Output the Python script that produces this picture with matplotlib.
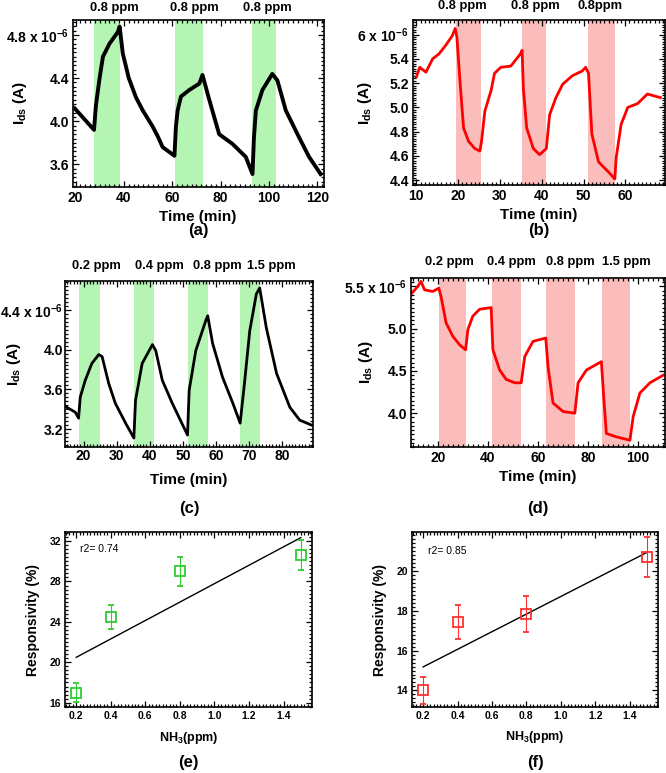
import numpy as np
import matplotlib
matplotlib.use('Agg')
import matplotlib.pyplot as plt
from matplotlib.ticker import AutoMinorLocator
from matplotlib.transforms import blended_transform_factory

plt.rcParams['font.family'] = ['Liberation Sans', 'DejaVu Sans']
plt.rcParams['font.weight'] = 'bold'
plt.rcParams['mathtext.fontset'] = 'custom'
plt.rcParams['mathtext.rm'] = 'Liberation Sans:bold'
plt.rcParams['mathtext.default'] = 'rm'

# (a) 0.8 ppm cycles, black trace (x1e-6 A)
a_time = [19.6, 24.4, 27.6, 28.4, 29.9, 31.3, 34.0, 37.5, 38.2, 39.5, 42.0, 45.0, 47.8, 51.9, 54.0,
          56.0, 60.9, 61.5, 62.2, 63.6, 67.0, 71.2, 72.5, 75.3, 79.4, 84.9, 90.4, 93.2, 93.8, 94.6,
          97.3, 101.4, 103.5, 107.0, 112.5, 116.6, 121.4]
a_ids = [4.12, 4.00, 3.92, 4.15, 4.40, 4.60, 4.72, 4.83, 4.88, 4.63, 4.40, 4.22, 4.10, 3.95, 3.86,
         3.76, 3.68, 3.95, 4.10, 4.23, 4.29, 4.35, 4.43, 4.20, 3.88, 3.79, 3.67, 3.51, 3.85, 4.10,
         4.29, 4.44, 4.38, 4.10, 3.85, 3.67, 3.51]
a_on = [27.4, 61.1, 92.9]
a_off = [38.4, 72.8, 103.1]
a_gas = ['0.8 ppm', '0.8 ppm', '0.8 ppm']

# (b) 0.8 ppm cycles, red trace
b_time = [10.0, 10.8, 12.3, 13.9, 15.4, 17.0, 18.6, 19.3, 19.7, 20.5, 21.3, 22.5, 24.0, 25.2, 25.6,
          26.4, 27.9, 28.7, 30.2, 32.6, 34.9, 35.3, 35.6, 36.4, 38.0, 39.5, 41.1, 41.9, 43.4, 45.0,
          47.3, 49.7, 50.5, 51.2, 52.0, 53.6, 55.9, 57.5, 57.8, 59.0, 60.6, 62.9, 65.3, 68.4]
b_ids = [5.25, 5.33, 5.29, 5.40, 5.44, 5.51, 5.59, 5.65, 5.58, 5.19, 4.83, 4.72, 4.66, 4.64, 4.72,
         4.97, 5.14, 5.28, 5.33, 5.34, 5.44, 5.47, 5.16, 4.83, 4.66, 4.61, 4.66, 4.94, 5.08, 5.19,
         5.26, 5.30, 5.33, 5.28, 4.78, 4.55, 4.47, 4.41, 4.58, 4.86, 5.00, 5.03, 5.11, 5.08]
b_on = [19.5, 35.3, 51.0]
b_off = [25.5, 41.1, 57.5]
b_gas = ['0.8 ppm', '0.8 ppm', '0.8ppm']

# (c) 0.2-1.5 ppm steps, black trace
c_time = [14.4, 17.5, 18.5, 19.0, 20.5, 22.5, 24.6, 25.6, 27.6, 29.6, 32.7, 35.2, 35.7, 37.7, 40.8,
          41.8, 43.8, 46.8, 51.4, 51.9, 53.9, 57.0, 57.5, 59.0, 62.0, 65.1, 67.3, 68.6, 70.2, 72.2,
          73.2, 75.2, 78.3, 82.3, 85.3, 88.9]
c_ids = [3.43, 3.37, 3.31, 3.52, 3.69, 3.86, 3.95, 3.93, 3.66, 3.46, 3.26, 3.11, 3.49, 3.86, 4.05,
         3.99, 3.69, 3.46, 3.14, 3.59, 3.99, 4.30, 4.34, 4.06, 3.72, 3.46, 3.26, 3.66, 4.19, 4.56,
         4.62, 4.22, 3.76, 3.42, 3.29, 3.24]
c_on = [18.7, 35.2, 51.6, 67.4]
c_off = [24.9, 41.3, 57.7, 73.2]
c_gas = ['0.2 ppm', '0.4 ppm', '0.8 ppm', '1.5 ppm']

# (d) 0.2-1.5 ppm steps, red trace
d_time = [9.6, 12.0, 13.3, 14.7, 18.0, 20.4, 21.3, 23.3, 26.0, 28.7, 31.1, 32.0, 34.0, 36.7, 41.3,
          42.0, 44.7, 47.3, 50.7, 53.3, 54.7, 58.0, 63.1, 64.0, 66.0, 70.0, 74.7, 76.0, 79.3, 85.3,
          86.3, 87.3, 91.3, 96.7, 98.0, 100.7, 104.7, 110.0]
d_ids = [5.42, 5.50, 5.56, 5.46, 5.44, 5.48, 5.38, 5.07, 4.91, 4.81, 4.75, 4.99, 5.15, 5.23, 5.25,
         4.75, 4.51, 4.40, 4.36, 4.36, 4.67, 4.85, 4.89, 4.55, 4.12, 4.02, 4.00, 4.36, 4.51, 4.61,
         4.16, 3.76, 3.72, 3.68, 3.96, 4.24, 4.36, 4.45]
d_on = [20.4, 41.5, 63.3, 85.7]
d_off = [31.1, 53.3, 74.9, 96.9]
d_gas = ['0.2 ppm', '0.4 ppm', '0.8 ppm', '1.5 ppm']

# (e), (f) responsivity vs NH3 concentration
nh3 = [0.2, 0.4, 0.8, 1.5]
e_resp = [17.0, 24.5, 29.0, 30.6]
e_err = [0.9, 1.2, 1.4, 1.5]
f_resp = [14.0, 17.45, 17.85, 20.7]
f_err = [0.7, 0.85, 0.9, 1.0]

W, H = 666, 773
fig = plt.figure(figsize=(W / 100, H / 100), dpi=100)


def rect(l, t, r, b):  # pixel box -> figure fraction
    return [l / W, 1 - b / H, (r - l) / W, (b - t) / H]


def ftext(x, y, s, **kw):
    fig.text(x / W, 1 - y / H, s, ha='center', va='center', **kw)


def style(ax, fs, pad=3):
    for sp in ax.spines.values():
        sp.set_linewidth(1.2)
    ax.xaxis.set_minor_locator(AutoMinorLocator(10))
    ax.yaxis.set_minor_locator(AutoMinorLocator(10))
    ax.tick_params(which='both', direction='in', top=True, right=True, width=0.9, labelsize=fs, pad=pad)
    ax.tick_params(which='major', length=4)
    ax.tick_params(which='minor', length=2)


def trace_panel(box, t, ids, on, off, gas, gas_x, gas_y, line_c, span_c, lw,
                xlim, ylim, xticks, yticks, ylabels, pad=3):
    ax = fig.add_axes(rect(*box))
    for s, e in zip(on, off):
        ax.axvspan(s, e, color=span_c, lw=0)
    ax.plot(t, ids, color=line_c, lw=lw, solid_joinstyle='round')
    ax.set_xlim(*xlim)
    ax.set_ylim(*ylim)
    ax.set_xticks(xticks)
    ax.set_yticks(yticks, ylabels)
    style(ax, 10, pad)
    tr = blended_transform_factory(ax.transData, fig.transFigure)
    for g, x in zip(gas, gas_x):
        ax.text(x, 1 - gas_y / H, g, transform=tr, ha='center', va='center',
                fontsize=9.3, fontweight='bold')
    return ax


green = '#b4f5b4'
pink = '#fbbcbc'
red = '#ff0000'

trace_panel((73, 20, 324, 187), a_time, a_ids, a_on, a_off, a_gas, [36.1, 69.1, 99.4], 8,
            'black', green, 2.8, (18.9, 122.8), (3.39, 4.94), [20, 40, 60, 80, 100, 120],
            [3.6, 4.0, 4.4, 4.8], ['3.6', '4.0', '4.4', '4.8 x 10$^{-6}$'])
trace_panel((413, 20, 665, 185), b_time, b_ids, b_on, b_off, b_gas, [20.9, 38.4, 54.0], 6,
            red, pink, 2.0, (9.2, 69.5), (4.36, 5.72), [10, 20, 30, 40, 50, 60],
            [4.4, 4.6, 4.8, 5.0, 5.2, 5.4, 5.6], ['4.4', '4.6', '4.8', '5.0', '5.2', '5.4', '6 x 10$^{-6}$'])
trace_panel((65, 281, 313, 447), c_time, c_ids, c_on, c_off, c_gas, [24.0, 42.8, 60.5, 76.7], 266,
            'black', green, 2.0, (14.4, 89.3), (3.02, 4.69), [20, 30, 40, 50, 60, 70, 80],
            [3.2, 3.6, 4.0, 4.4], ['3.2', '3.6', '4.0', '4.4 x 10$^{-6}$'], pad=1.5)
trace_panel((411, 278, 665, 447), d_time, d_ids, d_on, d_off, d_gas, [24.7, 49.3, 72.7, 95.3], 262,
            red, pink, 2.0, (9.3, 110.7), (3.6, 5.6), [20, 40, 60, 80, 100],
            [4.0, 4.5, 5.0, 5.5], ['4.0', '4.5', '5.0', '5.5 x 10$^{-6}$'])

for x, y, s in [(198, 217, 'Time (min)'), (198, 231, '(a)'), (539, 215, 'Time (min)'), (539, 231, '(b)'),
                (189, 480, 'Time (min)'), (189, 508, '(c)'), (538, 477, 'Time (min)'), (538, 508, '(d)')]:
    ftext(x, y, s, fontsize=11 if s.startswith('T') else 12, fontweight='bold')
for x, y in [(20, 103), (365, 103), (14, 364), (366, 362)]:
    ftext(x, y, '$I_{ds}$ (A)', fontsize=11, fontweight='bold', rotation=90)


def resp_panel(box, resp, err, col, ylim, yticks, lab_x, txt_xy):
    ax = fig.add_axes(rect(*box))
    k, b0 = np.polyfit(nh3, resp, 1)
    r2 = np.corrcoef(nh3, resp)[0, 1] ** 2
    xs = np.array([nh3[0], nh3[-1]])
    ax.plot(xs, k * xs + b0, color='black', lw=1.0)
    ax.errorbar(nh3, resp, yerr=err, fmt='s', mfc='none', mec=col, mew=1.3, ms=6.5,
                ecolor=col, elinewidth=0.8, capsize=2.5, capthick=0.8)
    ax.set_xlim(0.135, 1.565)
    ax.set_ylim(*ylim)
    ax.set_xticks([0.2, 0.4, 0.6, 0.8, 1.0, 1.2, 1.4])
    ax.set_yticks(yticks)
    style(ax, 7.5)
    ax.text(txt_xy[0], txt_xy[1], 'r2= %.2f' % r2, transform=ax.transAxes, fontsize=7.5,
            fontweight='normal', ha='left', va='center')
    cx = (box[0] + box[2]) / 2
    ftext(lab_x, (box[1] + box[3]) / 2, 'Responsivity (%)', fontsize=10, fontweight='bold', rotation=90)
    return ax, cx


_, cx = resp_panel((65, 532, 312, 707), e_resp, e_err, '#2ecc2e', (15.57, 32.9), [16, 20, 24, 28, 32],
                   33, (0.06, 0.90))
ftext(cx, 738, 'NH$_3$(ppm)', fontsize=9, fontweight='bold')
ftext(cx, 763, '(e)', fontsize=12, fontweight='bold')
_, cx = resp_panel((412, 532, 658, 707), f_resp, f_err, '#ff3030', (13.17, 21.95), [14, 16, 18, 20],
                   380, (0.065, 0.89))
ftext(cx, 737, 'NH$_3$(ppm)', fontsize=9, fontweight='bold')
ftext(cx, 762, '(f)', fontsize=12, fontweight='bold')

plt.savefig('out.png', dpi=100)
